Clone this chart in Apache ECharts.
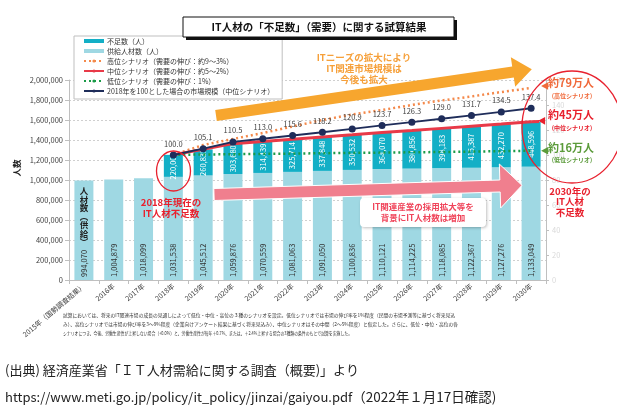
<!DOCTYPE html>
<html><head><meta charset="utf-8">
<script src="https://cdn.jsdelivr.net/npm/echarts@6/dist/echarts.min.js"></script>
<style>html,body{margin:0;padding:0;background:#fff}#c{width:617px;height:411px}</style>
</head><body><div id="c"></div>
<script>
const categories = ['2015年（国勢調査結果）','2016年','2017年','2018年','2019年','2020年','2021年','2022年','2023年','2024年','2025年','2026年','2027年','2028年','2029年','2030年'];
const supply = [994070,1004879,1018099,1031538,1045512,1059876,1070559,1081063,1091050,1100836,1110121,1114225,1118085,1122367,1127276,1133049];
const shortage = [null,null,null,220000,260835,303680,314439,325714,337848,350532,364070,380856,398183,415387,432270,448596];
const highScenario = [null,null,null,1251538,1350000,1410000,1470000,1535000,1600000,1655000,1700000,1750000,1795000,1835000,1880000,1920000];
const lowScenario = [null,null,null,1251538,1255000,1258000,1261000,1264000,1268000,1271000,1274000,1277000,1280000,1284000,1288000,1293000];
const marketIndex = [null,null,null,100.0,105.1,110.5,113.0,115.6,118.2,120.9,123.7,126.3,129.0,131.7,134.5,137.4];
const leftTicks = {min:0,max:2000000,interval:200000};
const rightTicks = {min:0,max:160,interval:20};

const midScenario = supply.map((s,i)=> shortage[i]==null ? null : s + shortage[i]);

const FONT = '"Noto Sans CJK JP","Noto Sans",sans-serif';
const fmt = v => v==null ? '' : Number(v).toLocaleString('en-US');

const C_SHORT='#13afc6', C_SUP='#9fd8e3', C_HIGH='#f4894b', C_MID='#e83a48', C_LOW='#1a9b48', C_NAVY='#1f2d5a';

const chart = echarts.init(document.getElementById('c'), null, {renderer:'canvas'});
const option = {
  animation:false,
  textStyle:{fontFamily:FONT},
  grid:{left:69,right:71,top:80,bottom:131,containLabel:false,outerBoundsMode:'none'},
  legend:{
    orient:'vertical', left:74, top:36, itemGap:0, itemWidth:20, itemHeight:4,
    padding:[0,8,3,9], backgroundColor:'#fff', borderColor:'#bfbfbf', borderWidth:1,
    textStyle:{fontSize:7, color:'#333', lineHeight:10, fontFamily:FONT, padding:[0,0,0,-2]},
    data:[
      {name:'不足数（人）', icon:'rect'},
      {name:'供給人材数（人）', icon:'rect'},
      {name:'高位シナリオ（需要の伸び：約9～3%）'},
      {name:'中位シナリオ（需要の伸び：約5～2%）'},
      {name:'低位シナリオ（需要の伸び：1%）'},
      {name:'2018年を100とした場合の市場規模（中位シナリオ）'}
    ]
  },
  xAxis:{type:'category', data:categories,
    axisLine:{lineStyle:{color:'#bfbfbf'}},
    axisTick:{show:true, length:4, lineStyle:{color:'#bfbfbf'}},
    axisLabel:{rotate:40, fontSize:7, color:'#404040', margin:5, interval:0}},
  yAxis:[
    {type:'value', min:leftTicks.min, max:leftTicks.max, interval:leftTicks.interval,
      axisLine:{show:true, lineStyle:{color:'#bfbfbf'}},
      axisTick:{show:true, length:4, lineStyle:{color:'#bfbfbf'}},
      axisLabel:{fontSize:7.5, color:'#404040', formatter:fmt, margin:6},
      splitLine:{show:true, lineStyle:{color:'#cfcfcf', type:[2,2]}}},
    {type:'value', position:'right', min:rightTicks.min, max:rightTicks.max, interval:rightTicks.interval,
      axisLine:{show:true, lineStyle:{color:'#bfbfbf'}},
      axisTick:{show:true, length:3, lineStyle:{color:'#bfbfbf'}},
      axisLabel:{fontSize:7.5, color:'#d9d9d9', margin:6},
      splitLine:{show:false}}
  ],
  series:[
    {name:'供給人材数（人）', type:'bar', stack:'s', data:supply, barWidth:19,
      itemStyle:{color:C_SUP},
      label:{show:true, position:'insideBottom', distance:3, rotate:90, align:'left', verticalAlign:'middle',
        fontSize:7.5, color:'#333', formatter:p=>fmt(p.value)}},
    {name:'不足数（人）', type:'bar', stack:'s', data:shortage, barWidth:19,
      itemStyle:{color:C_SHORT},
      label:{show:true, position:'inside', rotate:90, fontSize:7.5, color:'#fff', formatter:p=>fmt(p.value)}},
    {name:'高位シナリオ（需要の伸び：約9～3%）', type:'line', data:highScenario, symbol:'none', z:4,
      lineStyle:{color:C_HIGH, width:2.5, type:[2,3]}, itemStyle:{color:C_HIGH}},
    {name:'中位シナリオ（需要の伸び：約5～2%）', type:'line', data:midScenario, symbol:'none', z:4,
      lineStyle:{color:C_MID, width:3}, itemStyle:{color:C_MID}},
    {name:'低位シナリオ（需要の伸び：1%）', type:'line', data:lowScenario, symbol:'none', z:4,
      lineStyle:{color:C_LOW, width:2.5, type:[2,3]}, itemStyle:{color:C_LOW}},
    {name:'2018年を100とした場合の市場規模（中位シナリオ）', type:'line', yAxisIndex:1, data:marketIndex,
      symbol:'circle', symbolSize:7, z:5,
      lineStyle:{color:C_NAVY, width:1.8}, itemStyle:{color:C_NAVY},
      label:{show:true, position:'top', distance:4, fontSize:7.5, color:'#404040', formatter:p=>Number(p.value).toFixed(1)}}
  ]
};
chart.setOption(option);

function arrowPoly(t, b, headLen, bandHW, headHW){
  const dx=b[0]-t[0], dy=b[1]-t[1], L=Math.hypot(dx,dy), ux=dx/L, uy=dy/L, nx=-uy, ny=ux;
  const tip=[b[0]+ux*headLen, b[1]+uy*headLen];
  return [[t[0]+nx*bandHW,t[1]+ny*bandHW],[b[0]+nx*bandHW,b[1]+ny*bandHW],[b[0]+nx*headHW,b[1]+ny*headHW],tip,
          [b[0]-nx*headHW,b[1]-ny*headHW],[b[0]-nx*bandHW,b[1]-ny*bandHW],[t[0]-nx*bandHW,t[1]-ny*bandHW]];
}
const last = categories.length-1;
const pHigh = chart.convertToPixel({xAxisIndex:0,yAxisIndex:0},[last, highScenario[last]]);
const pMid = chart.convertToPixel({xAxisIndex:0,yAxisIndex:0},[last, midScenario[last]]);
const pLow = chart.convertToPixel({xAxisIndex:0,yAxisIndex:0},[last, lowScenario[last]]);
const p2015 = chart.convertToPixel({xAxisIndex:0,yAxisIndex:0},[0, 0]);
const tri = (x,y,color)=>({type:'polygon', z:100, shape:{points:[[x,y],[x+7,y-3.8],[x+7,y+3.8]]}, style:{fill:color}});
const txt = (text,x,y,size,color,weight,align,extra)=>({type:'text', z:101, style:Object.assign({text:text, x:x, y:y, fill:color,
  font:(weight||'normal')+' '+size+'px '+FONT, align:align||'left', verticalAlign:'middle'}, extra||{})});

const mctx = document.createElement('canvas').getContext('2d');
function measure(text, font){ mctx.font = font; return mctx.measureText(text).width; }
// tiny text fitted to a target width: drawn at 10px and scaled
const fitTxt = (text,x,y,targetW,heightPx)=>{
  const w = measure(text, '10px '+FONT);
  return {type:'text', z:101, x:x, y:y, scaleX:targetW/w, scaleY:heightPx/10,
    style:{text:text, x:0, y:0, fill:'#333', font:'10px '+FONT, align:'left', verticalAlign:'middle'}};
};

const footnote = [
 '試算においては、将来のIT関連市場の成長の見通しによって低位・中位・高位の３種のシナリオを設定。低位シナリオでは市場の伸び率を1%程度（民間の市場予測等に基づく将来見込',
 'み）、高位シナリオでは市場の伸び率を3～9%程度（企業向けアンケート結果に基づく将来見込み）、中位シナリオはその中間（2～5%程度）と仮定した。さらに、低位・中位・高位の各',
 'シナリオにつき、今後、労働生産性が上昇しない場合（+0.0%）と、労働生産性が毎年＋0.7%、または、＋2.4%上昇する場合の3種類の条件のもとで試算を実施した。'
];
const urlText = 'https://www.meti.go.jp/policy/it_policy/jinzai/gaiyou.pdf';
const urlW = measure(urlText, '13px '+FONT);

const graphics = [
  // title
  {type:'rect', z:100, shape:{x:186,y:20,width:271,height:20}, style:{fill:'#111'}},
  {type:'rect', z:101, shape:{x:183,y:17,width:271,height:20}, style:{fill:'#fff', stroke:'#111', lineWidth:1}},
  txt('IT人材の「不足数」（需要）に関する試算結果', 319, 27.5, 10.5, '#111', 'bold', 'center'),
  // orange arrow
  {type:'polygon', z:90, shape:{points:arrowPoly([216,115.5],[513,72],19,5.5,15)}, style:{fill:'#f7a62e'}},
  txt('ITニーズの拡大により\nIT関連市場規模は\n今後も拡大', 364, 68, 9.5, '#f6a03a', 'bold', 'center', {lineHeight:11}),
  // pink arrow
  {type:'polygon', z:90, shape:{points:arrowPoly([214,194.5],[500,186],22,6,22)}, style:{fill:'#f07f8e', stroke:'#fff', lineWidth:1}},
  {type:'rect', z:95, shape:{x:360,y:198,width:126,height:29,r:4}, style:{fill:'#fff', shadowBlur:3, shadowColor:'rgba(0,0,0,0.25)', shadowOffsetX:1, shadowOffsetY:1}},
  txt('IT関連産業の採用拡大等を\n背景にIT人材数は増加', 423, 212.5, 8.5, '#f0445a', 'bold', 'center', {lineHeight:10.5}),
  // left ellipse & text
  {type:'ellipse', z:100, shape:{cx:173.5,cy:171,rx:17,ry:20}, style:{fill:null, stroke:'#e8212e', lineWidth:1.3}},
  txt('2018年現在の\nIT人材不足数', 171, 207.5, 9.5, '#e8212e', 'bold', 'center', {lineHeight:11}),
  // right ellipse
  {type:'ellipse', z:100, shape:{cx:572,cy:127,rx:50,ry:56}, style:{fill:null, stroke:'#e8212e', lineWidth:1.3}},
  tri(pHigh[0]+10, pHigh[1]-2, '#f0693a'),
  {type:'line', z:99, shape:{x1:pMid[0],y1:pMid[1],x2:pMid[0]+8,y2:pMid[1]-0.3}, style:{stroke:C_MID, lineWidth:3}},
  tri(pMid[0]+7, pMid[1]-1, '#e8212e'),
  tri(pLow[0]+10, pLow[1], '#5b9b3a'),
  txt('約79万人', 548, 83, 11, '#f0693a', 'bold'),
  txt('(高位シナリオ)', 572, 95.5, 6, '#f0693a', 'bold', 'center'),
  txt('約45万人', 548, 115, 11, '#e8212e', 'bold'),
  txt('(中位シナリオ)', 572, 127.5, 6, '#e8212e', 'bold', 'center'),
  txt('約16万人', 548, 148, 11, '#5b9b3a', 'bold'),
  txt('(低位シナリオ)', 572, 160, 6, '#5b9b3a', 'bold', 'center'),
  txt('2030年の\nIT人材\n不足数', 570, 201.5, 9.5, '#e8212e', 'bold', 'center', {lineHeight:10.5}),
  // y axis name
  {type:'text', z:101, x:17, y:168, rotation:Math.PI/2, style:{text:'人数', fill:'#222', font:'bold 8.5px '+FONT, align:'center', verticalAlign:'middle'}},
  // vertical text on 2015 bar
  {type:'text', z:101, style:{text:'人\n材\n数\n︵\n供\n給\n︶', x:p2015[0], y:187, fill:'#222', font:'bold 8.5px '+FONT, align:'center', verticalAlign:'top', lineHeight:8.5}},
  // footnote (tiny, fitted)
  fitTxt(footnote[0], 63, 315, 392, 5),
  fitTxt(footnote[1], 63, 324, 395, 5),
  fitTxt(footnote[2], 63, 333, 289, 5),
  // source
  txt('(出典) 経済産業省「ＩＴ人材需給に関する調査（概要)」より', 5, 370, 13, '#222'),
  txt(urlText, 5, 397, 13, '#222'),
  txt('（2022年１月17日確認)', 5+urlW, 397, 13.5, '#222')
];
chart.setOption({graphic:graphics});
</script></body></html>
